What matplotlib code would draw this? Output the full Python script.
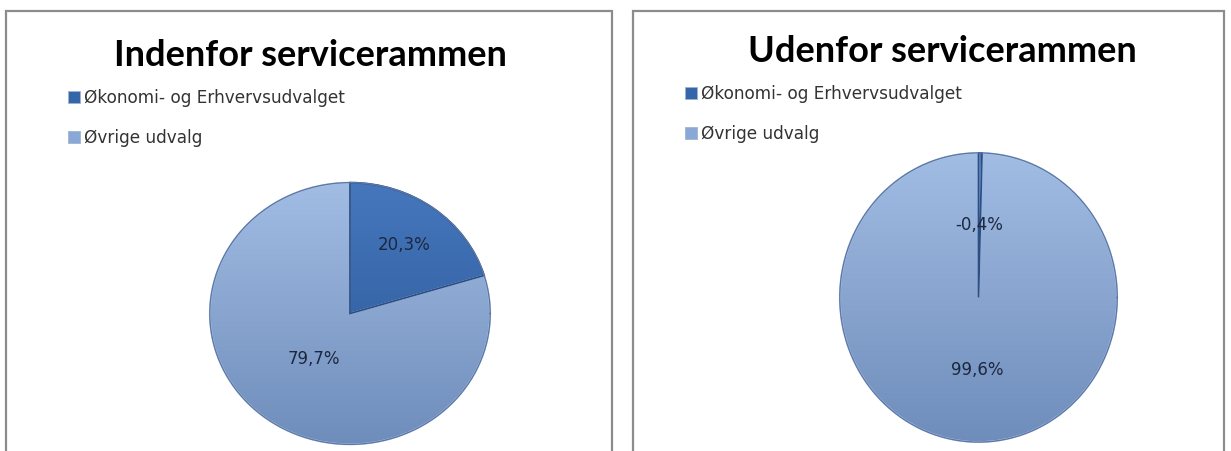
import numpy as np
import matplotlib
matplotlib.use("Agg")
import matplotlib.pyplot as plt
from matplotlib.patches import Rectangle
from matplotlib.colors import LinearSegmentedColormap

# data
categories = ["Økonomi- og Erhvervsudvalget", "Øvrige udvalg"]
titles = ["Indenfor servicerammen", "Udenfor servicerammen"]
values_inside = [20.3, 79.7]
values_outside = [-0.4, 99.6]

W, H = 1231, 451
fig = plt.figure(figsize=(W / 100, H / 100), dpi=100)
fig.patch.set_facecolor("white")

base_cols = ["#3566aa", "#8aa8d6"]
grads = [("#4677bd", "#285493"), ("#a2bde4", "#6f8dbb")]
edge_cols = ["#2b4f85", "#c9d8ee"]


def px(x0, y0, x1, y1):
    # pixel box (top-left origin) -> figure fraction rect
    return [x0 / W, 1 - y1 / H, (x1 - x0) / W, (y1 - y0) / H]


panels = [
    dict(box=(6, 11, 612, 470), title_x=310, title_y=56, leg=(68, 89),
         pie=(207, 180, 493, 447), dist=[0.65, 0.43]),
    dict(box=(633, 11, 1224, 470), title_x=942, title_y=52, leg=(685, 85),
         pie=(837, 150, 1120, 445), dist=[0.5, 0.5]),
]
all_values = [values_inside, values_outside]

for p, vals, title in zip(panels, all_values, titles):
    x0, y0, x1, y1 = p["box"]
    fig.patches.append(Rectangle((x0 / W, 1 - y1 / H), (x1 - x0) / W, (y1 - y0) / H,
                                 transform=fig.transFigure, fill=False,
                                 edgecolor="#8c8c8c", lw=1.6))
    fig.text(p["title_x"] / W, 1 - p["title_y"] / H, title, ha="center", va="center",
             fontsize=26, fontweight="bold", family="Lato", color="black")

    ax = fig.add_axes(px(*p["pie"]))
    sizes = [abs(v) for v in vals]
    wedges, _ = ax.pie(sizes, colors=base_cols, startangle=90, counterclock=False)
    ax.set_aspect("auto")
    ax.set_xlim(-1.02, 1.02)
    ax.set_ylim(-1.02, 1.02)
    ax.axis("off")

    for w, (c_top, c_bot) in zip(wedges, grads):
        cmap = LinearSegmentedColormap.from_list("g", [c_bot, c_top])
        grad = np.linspace(0, 1, 256).reshape(-1, 1)
        im = ax.imshow(grad, cmap=cmap, extent=[-1, 1, -1, 1], origin="lower",
                       aspect="auto", zorder=2)
        im.set_clip_path(w)
    for w, ec, z in zip(wedges, edge_cols, [5, 4]):
        w.set_zorder(z)
        w.set_facecolor("none")
        w.set_edgecolor(ec)
        w.set_linewidth(1.3)
    # outer edge
    t = np.linspace(0, 2 * np.pi, 400)
    ax.plot(np.cos(t), np.sin(t), color="#5b78a8", lw=1.0, zorder=5.5)

    for w, v, d in zip(wedges, vals, p["dist"]):
        ang = np.deg2rad((w.theta1 + w.theta2) / 2)
        ax.text(d * np.cos(ang), d * np.sin(ang), f"{v:.1f}%".replace(".", ","),
                ha="center", va="center", fontsize=12, family="DejaVu Sans",
                color="#1c2740", zorder=6)

    # legend
    lx, ly = p["leg"]
    handles = [Rectangle((0, 0), 1, 1, facecolor=c, edgecolor="#9fb3d0", lw=0.6)
               for c in base_cols]
    fig.legend(handles, categories, loc="upper left",
               bbox_to_anchor=(lx / W, 1 - ly / H), frameon=False,
               prop=dict(family="DejaVu Sans", size=12.2),
               handlelength=0.7, handleheight=0.7, handletextpad=0.25,
               labelspacing=1.3, borderaxespad=0, borderpad=0,
               labelcolor="#333333")

fig.savefig("out.png", dpi=100)
